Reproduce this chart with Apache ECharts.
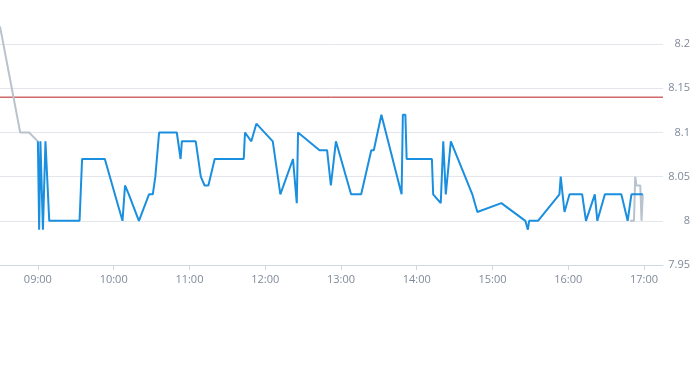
<!DOCTYPE html>
<html>
<head>
<meta charset="utf-8">
<script src="https://cdn.jsdelivr.net/npm/echarts@6/dist/echarts.min.js"></script>
<style>
html,body{margin:0;padding:0;background:#fff;}
#chart{width:693px;height:365px;}
</style>
</head>
<body>
<div id="chart"></div>
<script>
// Main (blue) series: trading session
const mainTimes = ['9:00','9:01','9:02','9:04','9:06','9:09','9:33','9:35','9:53','10:03','10:07','10:09','10:12','10:20','10:28','10:31','10:33','10:36','10:50','10:53','10:54','11:05','11:09','11:12','11:15','11:20','11:43','11:44','11:49','11:53','12:06','12:12','12:22','12:25','12:26','12:43','12:49','12:52','12:56','13:08','13:16','13:24','13:26','13:32','13:48','13:49','13:51','13:52','14:12','14:13','14:19','14:21','14:23','14:27','14:44','14:48','15:07','15:26','15:28','15:29','15:36','15:53','15:54','15:57','16:01','16:11','16:14','16:21','16:23','16:29','16:42','16:47','16:50','16:59'];
const mainValues = [8.09,7.99,8.09,7.99,8.09,8.00,8.00,8.07,8.07,8.02,8.00,8.04,8.03,8.00,8.03,8.03,8.05,8.10,8.10,8.07,8.09,8.09,8.05,8.04,8.04,8.07,8.07,8.10,8.09,8.11,8.09,8.03,8.07,8.02,8.10,8.08,8.08,8.04,8.09,8.03,8.03,8.08,8.08,8.12,8.03,8.12,8.12,8.07,8.07,8.03,8.02,8.09,8.03,8.09,8.03,8.01,8.02,8.00,7.99,8.00,8.00,8.03,8.05,8.01,8.03,8.03,8.00,8.03,8.00,8.03,8.03,8.00,8.03,8.03];
// Secondary (grey) series: pre / post session (null = gap)
const extTimes = ['8:30','8:46','8:53','9:00','12:00','16:49','16:52','16:53','16:54','16:57','16:58','16:59','16:59'];
const extValues = [8.22,8.10,8.10,8.09,null,8.00,8.00,8.05,8.04,8.04,8.00,8.00,8.03];
const refLevel = 8.14;
const xRange = ['8:30','17:15'];
const xTickHours = [9,10,11,12,13,14,15,16,17];
const yTicks = [7.95,8.00,8.05,8.10,8.15,8.20,8.25];

function toHours(s){ const p = s.split(':'); return (+p[0]) + (+p[1])/60; }
function pairs(ts, vs){ return ts.map((t,i)=>[toHours(t), vs[i]===null ? '-' : vs[i]]); }
function fmtHour(v){ const h = Math.floor(v); const m = Math.round((v-h)*60); return String(h).padStart(2,'0')+':'+String(m).padStart(2,'0'); }

const chart = echarts.init(document.getElementById('chart'));
const labelColor = '#7f8a99';
chart.setOption({
  animation:false,
  grid:{left:0,right:28,top:0,bottom:100,containLabel:false},
  xAxis:{
    type:'value', min:toHours(xRange[0]), max:toHours(xRange[1]),
    axisLine:{show:true,lineStyle:{color:'#cfd6df'}},
    axisTick:{show:true,customValues:xTickHours,length:5,lineStyle:{color:'#cfd6df'}},
    axisLabel:{customValues:xTickHours,formatter:fmtHour,color:labelColor,fontSize:11,margin:9,fontFamily:'Open Sans, sans-serif'},
    splitLine:{show:false}
  },
  yAxis:{
    type:'value', position:'right', min:yTicks[0], max:yTicks[yTicks.length-1], interval:0.05,
    axisLine:{show:false}, axisTick:{show:false},
    axisLabel:{align:'right',margin:27,color:labelColor,fontSize:11,showMaxLabel:false,fontFamily:'Open Sans, sans-serif',
      formatter:v=>String(parseFloat(v.toFixed(2)))},
    splitLine:{show:true,showMaxLine:false,lineStyle:{color:'#e3e7ec',width:1}}
  },
  series:[
    {type:'line',data:xRange.map(t=>[toHours(t),refLevel]),showSymbol:false,symbol:'none',silent:true,
      lineStyle:{color:'#b81c1c',width:1},itemStyle:{color:'#b81c1c'},z:1},
    {type:'line',data:pairs(extTimes,extValues),showSymbol:false,symbol:'none',connectNulls:false,
      lineStyle:{color:'#b9c3cd',width:2},itemStyle:{color:'#b9c3cd'},z:2},
    {type:'line',data:pairs(mainTimes,mainValues),showSymbol:false,symbol:'none',
      lineStyle:{color:'#1b8fdf',width:2},itemStyle:{color:'#1b8fdf'},z:3}
  ]
});
</script>
</body>
</html>
